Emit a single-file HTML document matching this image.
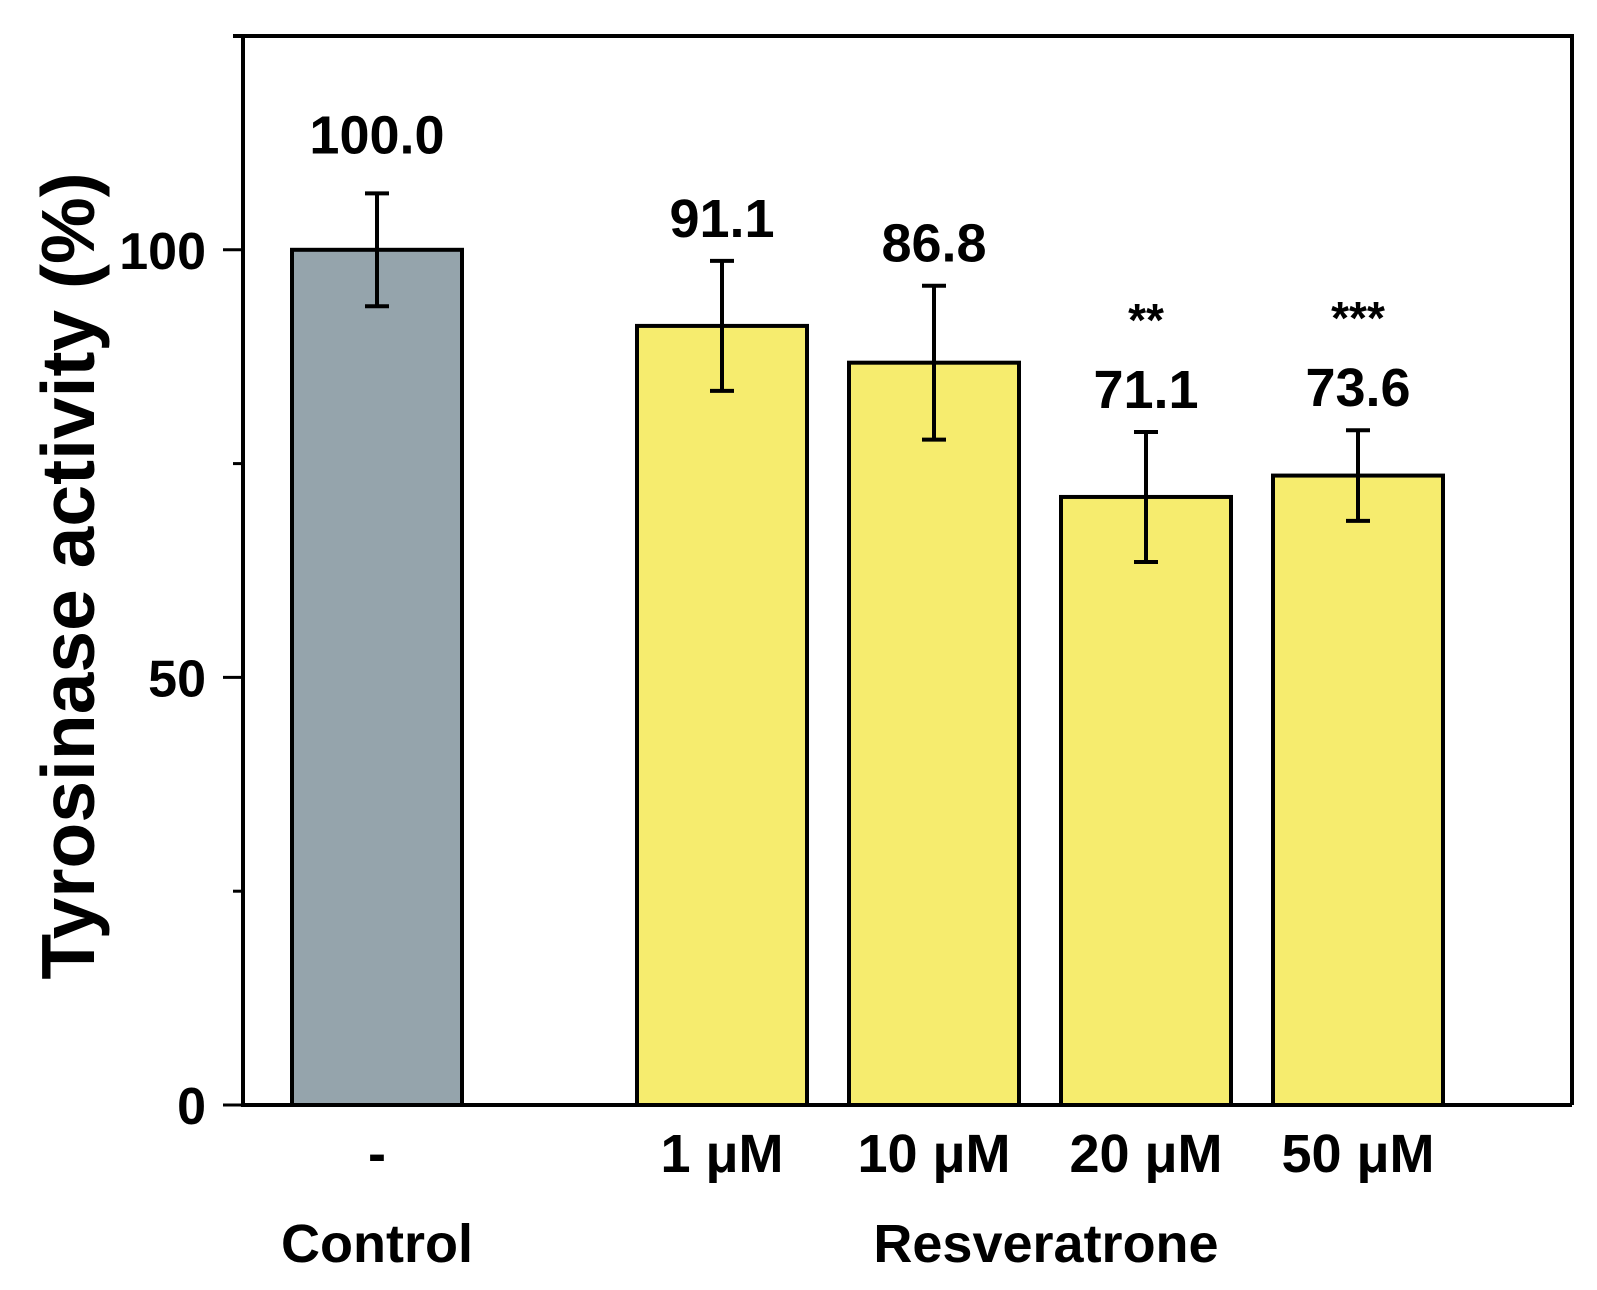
<!DOCTYPE html>
<html><head><meta charset="utf-8"><style>
html,body{margin:0;padding:0;background:#fff}
svg text{font-family:"Liberation Sans",Arial,sans-serif;font-weight:bold;fill:#000}
</style></head><body>
<svg width="1597" height="1285" viewBox="0 0 1597 1285">
<g id="g"></g>
</svg>
<script>
const categories=["-","1 μM","10 μM","20 μM","50 μM"];
const values=[100.0,91.1,86.8,71.1,73.6];
const errors=[6.6,7.6,9.0,7.6,5.3];
const stars=["","","","**","***"];
const yTicks=[0,50,100];
const yMinor=[25,75];
const colors=["#95a4ac","#f6ec6e","#f6ec6e","#f6ec6e","#f6ec6e"];
const centers=[377,722,934,1146,1358];
const NS="http://www.w3.org/2000/svg";
const g=document.getElementById('g');
const y0=1105,yTop=36,yMax=125;
function Y(v){return y0-(y0-yTop)*v/yMax;}
function mk(t,a,txt){const e=document.createElementNS(NS,t);for(const k in a)e.setAttribute(k,a[k]);if(txt!==undefined)e.textContent=txt;g.appendChild(e);return e;}
const L=243,R=1572,bw=170;
values.forEach((v,i)=>{
 const c=centers[i];
 const b=mk('rect',{x:c-bw/2,y:Y(v),width:bw,height:y0-Y(v),fill:colors[i],stroke:'#000','stroke-width':4});
 
 
 const e1=Y(v+errors[i]),e2=Y(v-errors[i]);
 const eb=mk('path',{d:`M${c},${e1}V${e2}M${c-12},${e1}H${c+12}M${c-12},${e2}H${c+12}`,stroke:'#000','stroke-width':4,fill:'none'});
 
 
 const lb=mk('text',{x:c,y:e1-(i===0?40:24),'text-anchor':'middle','font-size':54},v.toFixed(1));
 
 
 if(stars[i]){const s=mk('text',{x:c,y:e1-24-72,'text-anchor':'middle','font-size':46},stars[i]);
 
 }
 const cl=mk('text',{x:c,y:1172,'text-anchor':'middle','font-size':54},categories[i]);
 
 
});
const ax=mk('path',{d:`M233,${yTop}H${R}V${y0}M${L},${yTop}V${y0}H${R}`,stroke:'#000','stroke-width':4,fill:'none'});


yTicks.forEach(t=>{
 mk('path',{d:`M223,${Y(t)}H${L}`,stroke:'#000','stroke-width':3});
 const tl=mk('text',{x:206,y:Y(t)+19,'text-anchor':'end','font-size':52},String(t));
 
 
});
yMinor.forEach(t=>{mk('path',{d:`M233,${Y(t)}H${L}`,stroke:'#000','stroke-width':3});});
const yt=mk('text',{x:0,y:0,'text-anchor':'middle','font-size':75,transform:'translate(94,576) rotate(-90)'},'Tyrosinase activity (%)');


const g1=mk('text',{x:377,y:1262,'text-anchor':'middle','font-size':54},'Control');


const g2=mk('text',{x:1046,y:1262,'text-anchor':'middle','font-size':54},'Resveratrone');


</script>
</body></html>
